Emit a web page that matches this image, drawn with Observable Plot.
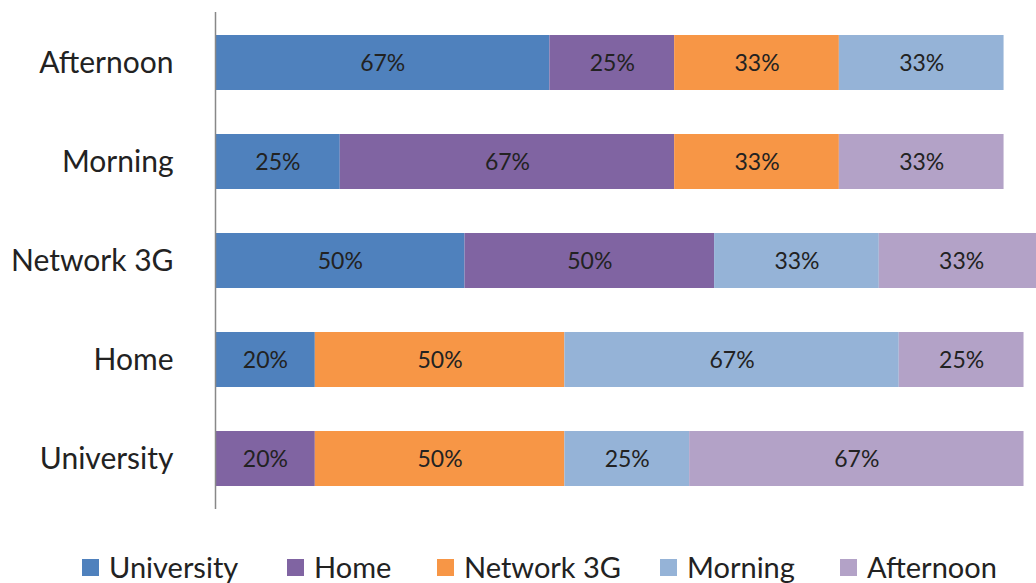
<!DOCTYPE html>
<html>
<head>
<meta charset="utf-8">
<script src="https://cdn.jsdelivr.net/npm/d3@7"></script>
<script src="https://cdn.jsdelivr.net/npm/@observablehq/plot@0.6"></script>
<style>
  body { margin: 0; background: #fff; font-family: Lato, "Open Sans", sans-serif; }
  #wrap { position: relative; width: 1036px; height: 583px; overflow: hidden; }
  #legend { position: absolute; left: 0; top: 552px; width: 1036px; height: 30px; font-size: 29px; line-height: 30px; color: #222; }
  .item { position: absolute; top: 0; height: 30px; display: flex; align-items: center; gap: 10px; white-space: nowrap; }
  .sw { width: 17px; height: 17px; display: inline-block; }
</style>
</head>
<body>
<div id="wrap"><div id="chart"></div><div id="legend"></div></div>
<script>
const categories = ["Afternoon", "Morning", "Network 3G", "Home", "University"];
const seriesNames = ["University", "Home", "Network 3G", "Morning", "Afternoon"];
const seriesColors = ["#4F81BD", "#8064A2", "#F79646", "#95B3D7", "#B3A2C7"];
// values per category, in series order (null = absent)
const afternoonRow  = [67, 25, 33, 33, null];
const morningRow    = [25, 67, 33, null, 33];
const network3GRow  = [50, 50, null, 33, 33];
const homeRow       = [20, null, 50, 67, 25];
const universityRow = [null, 20, 50, 25, 67];
const legendLeft = [82, 287, 437, 660, 840];

const rows = [afternoonRow, morningRow, network3GRow, homeRow, universityRow];
const data = [];
categories.forEach((c, i) => {
  rows[i].forEach((v, j) => {
    if (v != null) data.push({category: c, series: seriesNames[j], value: v});
  });
});

const chart = Plot.plot({
  width: 1036,
  height: 530,
  marginLeft: 215,
  marginRight: 0,
  marginTop: 12,
  marginBottom: 21,
  style: {fontFamily: "Lato, 'Open Sans', sans-serif", color: "#222", background: "#fff"},
  x: {domain: [0, 164.5], axis: null},
  y: {domain: categories, paddingInner: 0.44, paddingOuter: 0.22, label: null, axis: null},
  color: {domain: seriesNames, range: seriesColors},
  marks: [
    Plot.barX(data, Plot.stackX({x: "value", y: "category", z: "series", fill: "series", order: seriesNames, clip: true})),
    Plot.textX(data, Plot.stackX({x: "value", y: "category", z: "series", order: seriesNames, text: d => d.value + "%", fontSize: 23, fill: "#222", dy: 1})),
    Plot.ruleX([0], {stroke: "#888", strokeWidth: 1.5}),
    Plot.axisY({tickSize: 0, tickPadding: 42, fontSize: 30, label: null})
  ]
});
document.getElementById("chart").appendChild(chart);

const legend = document.getElementById("legend");
seriesNames.forEach((s, i) => {
  const item = document.createElement("div");
  item.className = "item";
  item.style.left = legendLeft[i] + "px";
  const sw = document.createElement("span");
  sw.className = "sw";
  sw.style.background = seriesColors[i];
  const t = document.createElement("span");
  t.textContent = s;
  item.appendChild(sw); item.appendChild(t);
  legend.appendChild(item);
});
</script>
</body>
</html>
